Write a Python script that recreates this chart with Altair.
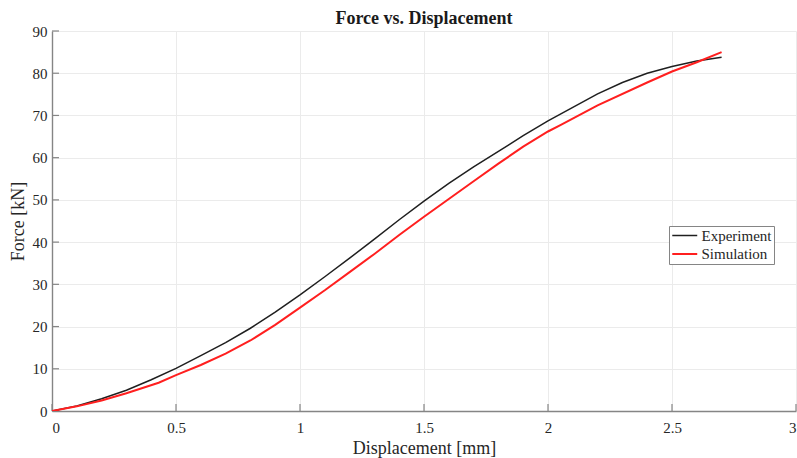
import altair as alt
import pandas as pd

# ---- data ----
exp_x = [0, 0.1, 0.2, 0.3, 0.4, 0.5, 0.6, 0.7, 0.8, 0.9, 1.0, 1.1, 1.2, 1.3, 1.4,
         1.5, 1.6, 1.7, 1.8, 1.9, 2.0, 2.1, 2.2, 2.3, 2.4, 2.5, 2.6, 2.7]
exp_y = [0, 1.2, 2.9, 4.9, 7.4, 10.1, 13.1, 16.2, 19.6, 23.4, 27.5, 31.8, 36.2, 40.7, 45.3,
         49.7, 53.9, 57.8, 61.5, 65.2, 68.7, 71.9, 75.1, 77.8, 80.0, 81.6, 82.9, 83.8]

sim_x = [0, 0.1, 0.2, 0.3, 0.43, 0.5, 0.6, 0.7, 0.8, 0.9, 1.0, 1.1, 1.2, 1.3, 1.4,
         1.5, 1.6, 1.7, 1.8, 1.9, 2.0, 2.05, 2.2, 2.4, 2.5, 2.6, 2.7]
sim_y = [0, 1.1, 2.5, 4.2, 6.7, 8.5, 10.9, 13.6, 16.7, 20.4, 24.5, 28.6, 32.9, 37.2, 41.7,
         46.0, 50.2, 54.4, 58.6, 62.6, 66.2, 67.7, 72.4, 77.8, 80.4, 82.6, 85.0]

series = ["Experiment", "Simulation"]
series_colors = ["#1f1f1f", "#ff1f1f"]
x_ticks = [0, 0.5, 1, 1.5, 2, 2.5, 3]
y_ticks = [0, 10, 20, 30, 40, 50, 60, 70, 80, 90]

df = pd.concat([
    pd.DataFrame({"disp": exp_x, "force": exp_y, "series": series[0]}),
    pd.DataFrame({"disp": sim_x, "force": sim_y, "series": series[1]}),
], ignore_index=True)
xt = pd.DataFrame({"t": x_ticks})
yt = pd.DataFrame({"t": y_ticks})

W, H = 744, 380
FONT = "Liberation Serif"
AXIS_COLOR = "#858585"
TEXT_COLOR = "#262626"
TICK_LEN = 7

xs = alt.Scale(domain=[0, 3], nice=False, zero=False)
ys = alt.Scale(domain=[0, 90], nice=False)

x_axis = alt.Axis(values=x_ticks, labelExpr="'' + datum.value", title="Displacement [mm]",
                  labelPadding=9, titlePadding=4)
y_axis = alt.Axis(values=y_ticks, labelExpr="'' + datum.value", title="Force [kN]",
                  labelPadding=5, titlePadding=5)

lines = alt.Chart(df).mark_line(clip=True).encode(
    x=alt.X("disp:Q", scale=xs, axis=x_axis),
    y=alt.Y("force:Q", scale=ys, axis=y_axis),
    color=alt.Color("series:N", scale=alt.Scale(domain=series, range=series_colors),
                    legend=alt.Legend(
                        title=None, orient="none", legendX=617, legendY=195,
                        fillColor="white", strokeColor=AXIS_COLOR, padding=2,
                        cornerRadius=0, symbolType="M-1,0H3", symbolSize=156,
                        symbolStrokeWidth=1.8, labelOffset=15.5, rowPadding=2.5,
                        labelFont=FONT, labelFontSize=15, labelColor=TEXT_COLOR)),
    strokeWidth=alt.StrokeWidth("series:N", scale=alt.Scale(domain=series, range=[1.5, 2.0]),
                                legend=None),
)

xtick = alt.Chart(xt).mark_rule(color=AXIS_COLOR, strokeWidth=1.2).encode(
    x=alt.X("t:Q", scale=xs, axis=x_axis),
    y=alt.value(H), y2=alt.value(H - TICK_LEN),
)
ytick = alt.Chart(yt).mark_rule(color=AXIS_COLOR, strokeWidth=1.2).encode(
    y=alt.Y("t:Q", scale=ys, axis=y_axis),
    x=alt.value(0), x2=alt.value(TICK_LEN),
)

chart = alt.layer(xtick, ytick, lines).properties(
    width=W, height=H, background="white",
    title=alt.TitleParams("Force vs. Displacement", font=FONT, fontSize=18,
                          fontWeight="bold", color="#1a1a1a", anchor="middle",
                          baseline="alphabetic", offset=6, dy=24),
    autosize=alt.AutoSizeParams(type="none"),
    padding={"left": 52, "top": 31, "right": 1, "bottom": 47},
).configure_view(strokeWidth=0).configure_axis(
    labelFont=FONT, labelFontSize=15, labelColor=TEXT_COLOR,
    titleFont=FONT, titleFontSize=18, titleFontWeight="normal", titleColor=TEXT_COLOR,
    domainColor=AXIS_COLOR, domainWidth=1.4, tickSize=0,
    gridColor="#ebebeb", gridWidth=1,
)

chart.save("out.html", embed_options={"renderer": "svg", "actions": False})
